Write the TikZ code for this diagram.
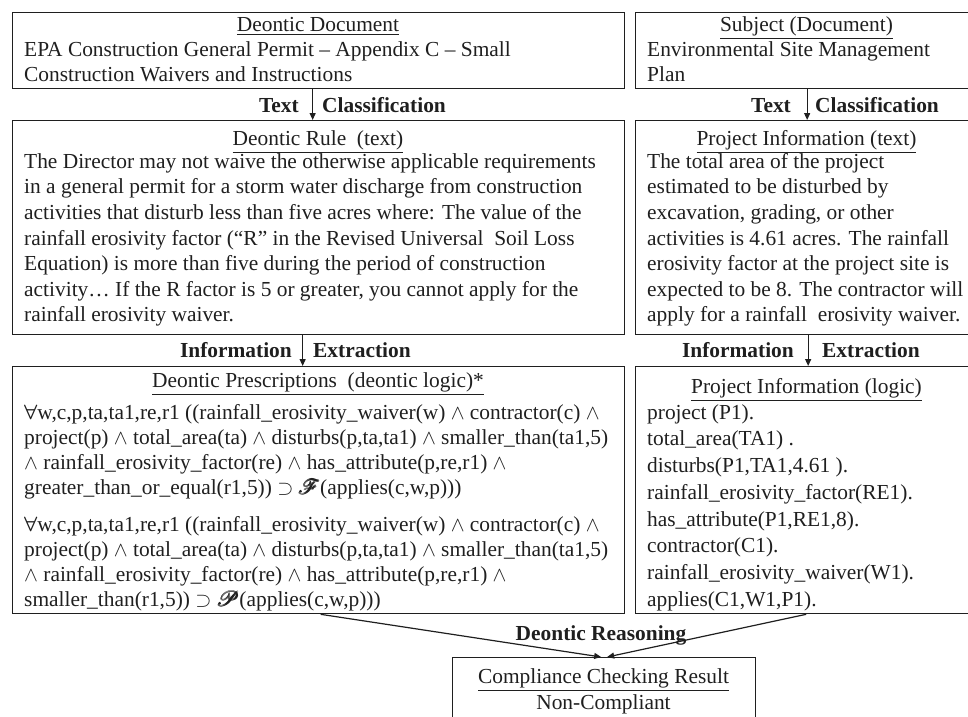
\documentclass[tikz,border=0pt]{standalone}
\usepackage{fontspec}
\setmainfont{Liberation Serif}
\usepackage{amsmath,amssymb}
\usepackage{mathrsfs}
\usetikzlibrary{arrows.meta}
\colorlet{ink}{black!88}
\newcommand\boxfont{\fontsize{21.4}{25}\selectfont}
\newcommand\firstline{\rule{0pt}{20pt}}
\newcommand\andop{$\wedge$}
\newcommand\allq{$\boldsymbol{\forall}$}

\begin{document}
\begin{tikzpicture}[x=1pt,y=-1pt,
  frame/.style={draw=ink, line width=1.3pt, rectangle, anchor=north west, inner sep=0pt},
  txt/.style={inner sep=0pt, font=\boxfont, text=ink},
  head/.style={txt, anchor=base},
  body/.style={txt, anchor=north west, align=left},
  lbl/.style={inner sep=0pt, font=\boxfont\bfseries, text=ink},
  flow/.style={draw=ink, line width=1.2pt, -{Triangle[length=7pt,width=6pt]}},
]
\useasboundingbox (0,0) rectangle (968,716);
\clip (0,0) rectangle (968,716);

% ---- boxes ----
\node[frame, minimum width=612, minimum height=76] (docL) at (12,12) {};
\node[frame, minimum width=343, minimum height=76] (docR) at (635,12) {};
\node[frame, minimum width=612, minimum height=214] (ruleL) at (12,120) {};
\node[frame, minimum width=343, minimum height=214] (ruleR) at (635,120) {};
\node[frame, minimum width=612, minimum height=247] (presL) at (12,366) {};
\node[frame, minimum width=343, minimum height=247] (infoR) at (635,366) {};
\node[frame, minimum width=303, minimum height=90] (res) at (452,657) {};

% ---- source documents ----
\node[head] (docLh) at (318,31) {\underline{Deontic Document}};
\node[body] (docLb) at (24,36) {\firstline EPA Construction General Permit -- Appendix C -- Small\\
Construction Waivers and Instructions};
\node[head] (docRh) at (806.5,31) {\underline{Subject (Document)}};
\node[body] (docRb) at (647,36) {\firstline Environmental Site Management\\ Plan};

% ---- text level ----
\node[head] (ruleLh) at (318,145) {\underline{Deontic Rule\ \ (text)}};
\node[body, font=\fontsize{21.4}{25.6}\selectfont] (ruleLb) at (24,148) {\firstline The Director may not waive the otherwise applicable requirements\\
in a general permit for a storm water discharge from construction\\
activities that disturb less than five acres where: The value of the\\
rainfall erosivity factor (“R” in the Revised Universal\ \ Soil Loss\\
Equation) is more than five during the period of construction\\
activity… If the R factor is 5 or greater, you cannot apply for the\\
rainfall erosivity waiver.};
\node[head] (ruleRh) at (806.5,145) {\underline{Project Information (text)}};
\node[body, font=\fontsize{21.4}{25.6}\selectfont] (ruleRb) at (647,148) {\firstline The total area of the project\\
estimated to be disturbed by\\
excavation, grading, or other\\
activities is 4.61 acres. The rainfall\\
erosivity factor at the project site is\\
expected to be 8. The contractor will\\
apply for a rainfall\ \ erosivity waiver.};

% ---- logic level ----
\node[head] (presLh) at (318,387) {\underline{Deontic Prescriptions\ \ (deontic logic)*}};
\node[body] (presLb) at (24,399) {\firstline \allq w,c,p,ta,ta1,re,r1 ((rainfall\_erosivity\_waiver(w)\ \andop{} contractor(c) \andop\\
project(p) \andop{} total\_area(ta) \andop{} disturbs(p,ta,ta1) \andop{} smaller\_than(ta1,5)\\
\andop{} rainfall\_erosivity\_factor(re)\ \andop{} has\_attribute(p,re,r1) \andop\\
greater\_than\_or\_equal(r1,5)) $\supset$\ $\pmb{\mathscr{F}}$(applies(c,w,p)))\\[12pt]
\allq w,c,p,ta,ta1,re,r1 ((rainfall\_erosivity\_waiver(w)\ \andop{} contractor(c) \andop\\
project(p) \andop{} total\_area(ta) \andop{} disturbs(p,ta,ta1) \andop{} smaller\_than(ta1,5)\\
\andop{} rainfall\_erosivity\_factor(re)\ \andop{} has\_attribute(p,re,r1) \andop\\
smaller\_than(r1,5)) $\supset$ $\pmb{\mathscr{P}}$(applies(c,w,p)))};
\node[head] (infoRh) at (806.5,393) {\underline{Project Information (logic)}};
\node[body, font=\fontsize{21.4}{26.7}\selectfont] (infoRb) at (647,399) {\firstline project (P1).\\
total\_area(TA1) .\\
disturbs(P1,TA1,4.61 ).\\
rainfall\_erosivity\_factor(RE1).\\
has\_attribute(P1,RE1,8).\\
contractor(C1).\\
rainfall\_erosivity\_waiver(W1).\\
applies(C1,W1,P1).};

% ---- result ----
\node[head] (resh) at (603.5,683) {\underline{Compliance Checking Result}};
\node[head] (resb) at (603.5,709) {Non-Compliant};

% ---- process steps ----
\draw[flow] ([xshift=-6pt]docL.south) -- ([xshift=-6pt]ruleL.north);
\draw[flow] (docR.south) -- (ruleR.north);
\draw[flow] ([xshift=-16pt]ruleL.south) -- ([xshift=-16pt]presL.north);
\draw[flow] ([xshift=1pt]ruleR.south) -- ([xshift=1pt]infoR.north);
\node[lbl, anchor=base east] (tcL1) at (299,112) {Text};
\node[lbl, anchor=base west] (tcL2) at (322,112) {Classification};
\node[lbl, anchor=base east] (tcR1) at (791,112) {Text};
\node[lbl, anchor=base west] (tcR2) at (815,112) {Classification};
\node[lbl, anchor=base east] (ieL1) at (292,357) {Information};
\node[lbl, anchor=base west] (ieL2) at (313,357) {Extraction};
\node[lbl, anchor=base east] (ieR1) at (794,357) {Information};
\node[lbl, anchor=base west] (ieR2) at (822,357) {Extraction};
\node[lbl, anchor=base] (dr) at (601,640) {Deontic Reasoning};
\draw[flow] ([xshift=2pt]presL.south) -- ([xshift=-3pt]res.north);
\draw[flow] ([xshift=-1pt]infoR.south) -- ([xshift=3pt]res.north);
\end{tikzpicture}
\end{document}
